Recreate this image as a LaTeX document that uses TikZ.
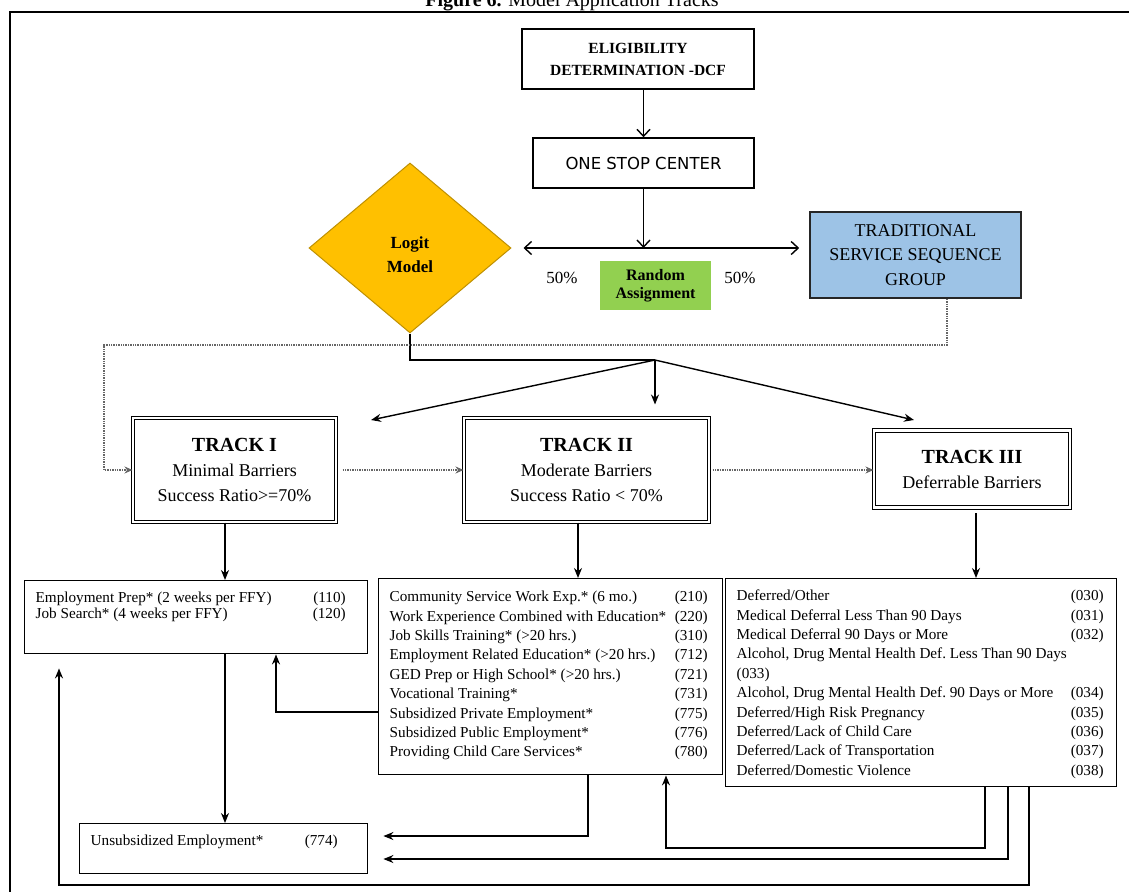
\documentclass[tikz,border=0pt]{standalone}
\usepackage{fontspec}
\setmainfont{Liberation Serif}
\newfontfamily\stopfont{DejaVu Sans}
\usetikzlibrary{shapes.geometric}
\usetikzlibrary{arrows.meta}
\definecolor{logitfill}{RGB}{255,192,0}
\definecolor{logitdraw}{RGB}{191,144,0}
\definecolor{randfill}{RGB}{146,208,80}
\definecolor{tradfill}{RGB}{157,195,230}
\def\mylw{1.4pt}
\def\listfont{\fontsize{15.2}{19.4}\selectfont}
% box with activity list: width, height, top gap, table width, rows
\newcommand{\actlist}[5]{%
  \parbox[c][#2][t]{#1}{\vspace*{#3}\hspace*{11pt}%
    \begin{tabular*}{#4}{@{}l@{\extracolsep{\fill}}r@{}}#5\end{tabular*}}}
\tikzset{
>={Stealth[length=10pt,width=8pt]},
open tip/.style={-{Straight Barb[length=7pt,width=13pt,line width=1.4pt]}},
open tips/.style={{Straight Barb[length=7pt,width=13pt,line width=1.4pt]}-{Straight Barb[length=7pt,width=13pt,line width=1.4pt]}},
my box/.style={draw,rectangle,inner sep=0pt,line width=\mylw},
head box/.style={my box,align=center,font=\fontsize{15.5}{22}\selectfont\bfseries},
track/.style={draw,double,double distance=2.5pt,line width=1pt,
  inner sep=0pt,align=center,font=\fontsize{18}{25}\selectfont},
list box/.style={my box,anchor=north west,font=\listfont},
link/.style={densely dotted,line width=1.4pt,draw=black!60,
  -{Stealth[length=8pt,width=7pt]}},
}

\begin{document}
\begin{tikzpicture}[x=1pt,y=-1pt,line width=\mylw]
\useasboundingbox (0,0) rectangle (1129,892);
\clip (0,0) rectangle (1129,892);

\node[anchor=base,font=\fontsize{20}{24}\selectfont] (title) at (572,6)
  {\textbf{Figure 6.} Model Application Tracks};
\draw[line width=2pt] (1129,11.5) -| (10,892);

% top of the flow
\node[head box,minimum width=232pt,minimum height=60pt] (elig) at (638,59)
  {ELIGIBILITY\\DETERMINATION -DCF};
\node[my box,minimum width=221pt,minimum height=50pt,
  font=\fontsize{16.5}{20}\stopfont] (onestop) at (643.5,163) {ONE STOP CENTER};
\node[diamond,draw=logitdraw,fill=logitfill,line width=1pt,inner sep=0pt,
  minimum width=202pt,minimum height=170pt,
  label={[align=center,yshift=-7pt,font=\fontsize{17}{24}\selectfont\bfseries]center:Logit\\Model}]
  (logit) at (410,248) {};
\node[fill=randfill,minimum width=111pt,minimum height=49pt,inner sep=0pt,
  align=center,font=\fontsize{16}{18}\selectfont\bfseries] (rand) at (655.5,285.5)
  {Random\\Assignment};
\node[font=\fontsize{17}{20}\selectfont] (pctL) at (562,278) {50\%};
\node[font=\fontsize{17}{20}\selectfont] (pctR) at (740,278) {50\%};
\node[my box,fill=tradfill,draw=black!85,line width=1.6pt,minimum width=211pt,
  minimum height=86pt,align=center,font=\fontsize{18}{24.5}\selectfont] (trad)
  at (915.5,255) {TRADITIONAL\\SERVICE SEQUENCE\\GROUP};

% tracks
\node[track,minimum width=203pt,minimum height=104pt] (trk1) at (234.5,470)
  {{\fontsize{20}{25}\selectfont\bfseries TRACK I}\\Minimal Barriers\\Success Ratio>=70\%};
\node[track,minimum width=245pt,minimum height=104pt] (trk2) at (586.5,470)
  {{\fontsize{20}{25}\selectfont\bfseries TRACK II}\\Moderate Barriers\\Success Ratio < 70\%};
\node[track,minimum width=196pt,minimum height=77pt] (trk3) at (972,469)
  {{\fontsize{20}{25}\selectfont\bfseries TRACK III}\\Deferrable Barriers};

% activity lists
\node[list box,font=\fontsize{15.2}{16}\selectfont] (trk1list) at (24,580)
  {\actlist{343pt}{73pt}{11pt}{310pt}{%
   Employment Prep* (2 weeks per FFY) & (110)\\
   Job Search* (4 weeks per FFY) & (120)}};
\node[list box] (trk2list) at (378,578)
  {\actlist{344pt}{196pt}{9.5pt}{318pt}{%
   Community Service Work Exp.* (6 mo.) & (210)\\
   Work Experience Combined with Education* & (220)\\
   Job Skills Training* (>20 hrs.) & (310)\\
   Employment Related Education* (>20 hrs.) & (712)\\
   GED Prep or High School* (>20 hrs.) & (721)\\
   Vocational Training* & (731)\\
   Subsidized Private Employment* & (775)\\
   Subsidized Public Employment* & (776)\\
   Providing Child Care Services* & (780)}};
\node[list box] (trk3list) at (725,578)
  {\actlist{391pt}{208pt}{8.5pt}{367pt}{%
   Deferred/Other & (030)\\
   Medical Deferral Less Than 90 Days & (031)\\
   Medical Deferral 90 Days or More & (032)\\
   \multicolumn{2}{@{}l@{}}{Alcohol, Drug Mental Health Def.\ Less Than 90 Days}\\
   (033) & \\
   Alcohol, Drug Mental Health Def.\ 90 Days or More & (034)\\
   Deferred/High Risk Pregnancy & (035)\\
   Deferred/Lack of Child Care & (036)\\
   Deferred/Lack of Transportation & (037)\\
   Deferred/Domestic Violence & (038)}};
\node[list box] (unsub) at (79,823)
  {\actlist{288pt}{50pt}{8.5pt}{247pt}{Unsubsidized Employment* & (774)}};

% bend points
\coordinate (split) at (655,360);
\coordinate (tipL) at (371,420);
\coordinate (tipR) at (914,420);
\coordinate (dotR) at (947,345);
\coordinate (dotL) at (104,345);
\coordinate (x1) at (225,0);
\coordinate (x2) at (578,0);
\coordinate (x3) at (976,0);
\coordinate (k1) at (276,712);
\coordinate (k2) at (588,836);
\coordinate (k3) at (985,848);
\coordinate (k3b) at (666,848);
\coordinate (k4) at (1008,859);
\coordinate (k5) at (1029,885);
\coordinate (k5b) at (59,885);

\draw[open tip] (onestop.north |- elig.south) -- (onestop.north);
\draw[open tip] (onestop.south) -- (onestop.south |- logit.east);
\draw[open tips,shorten <=12pt,shorten >=10pt] (logit.east) -- (logit.east -| trad.west);

\draw (logit.south) |- (split);
\draw[->] (split) -- (tipL);
\draw[->,shorten >=13pt] (split) -- (split |- trk2.north);
\draw[->] (split) -- (tipR);

\draw[link] (trad.south -| dotR) -- (dotR) -- (dotL) |- (trk1.west);
\draw[link,shorten <=6pt] (trk1.east) -- (trk2.west);
\draw[link,shorten <=3pt] (trk2.east) -- (trk2.east -| trk3.west);

\draw[->] (trk1.south -| x1) -- (trk1list.north -| x1);
\draw[->] (trk2.south -| x2) -- (trk2list.north -| x2);
\draw[->,shorten <=5pt] (trk3.south -| x3) -- (trk3list.north -| x3);
\draw[->] (trk1list.south -| x1) -- (unsub.north -| x1);
\draw[->] (trk2list.west |- k1) -- (k1) -- (k1 |- trk1list.south);
\draw[->,shorten >=15pt] (trk2list.south -| k2) -- (k2) -- (unsub.east |- k2);
\draw[->] (trk3list.south -| k3) -- (k3) -- (k3b) -- (k3b |- trk2list.south);
\draw[->,shorten >=15pt] (trk3list.south -| k4) -- (k4) -- (unsub.east |- k4);
\draw[->,shorten >=14pt] (trk3list.south -| k5) -- (k5) -- (k5b) -- (k5b |- trk1list.south);
\end{tikzpicture}
\end{document}
